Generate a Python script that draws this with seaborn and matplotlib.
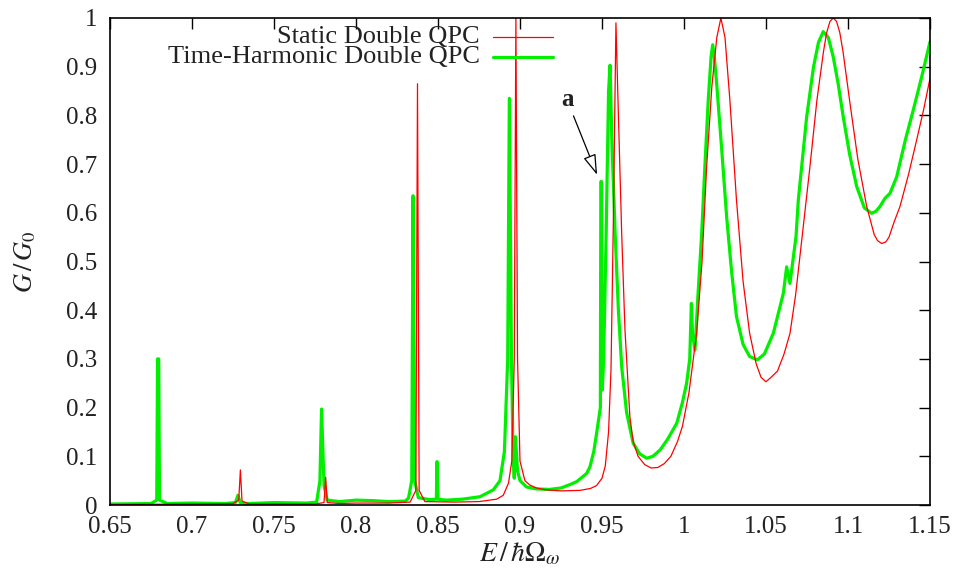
import numpy as np
import pandas as pd
import matplotlib
matplotlib.use("Agg")
import matplotlib.pyplot as plt
from matplotlib.ticker import FuncFormatter
import seaborn as sns

# ---- data ----
static_x = [0.650, 0.700, 0.725, 0.7285, 0.7295, 0.7305, 0.735, 0.775, 0.7805, 0.7815,
            0.7825, 0.790, 0.800, 0.820, 0.833, 0.8365, 0.8375, 0.8385, 0.842, 0.860,
            0.875, 0.8858, 0.8898, 0.893, 0.895, 0.8965, 0.8975, 0.8985, 0.900, 0.903,
            0.906, 0.910, 0.916, 0.925, 0.9366, 0.943, 0.9467, 0.950, 0.952, 0.954,
            0.9555, 0.957, 0.9585, 0.960, 0.962, 0.964, 0.967, 0.969, 0.972, 0.976,
            0.980, 0.984, 0.988, 0.992, 0.996, 0.999, 1.003, 1.0077, 1.011, 1.0138,
            1.017, 1.020, 1.0225, 1.025, 1.028, 1.032, 1.036, 1.040, 1.044, 1.047,
            1.050, 1.053, 1.057, 1.061, 1.0646, 1.068, 1.072, 1.0768, 1.081, 1.085,
            1.087, 1.089, 1.091, 1.093, 1.095, 1.097, 1.101, 1.106, 1.1114, 1.116,
            1.118, 1.1205, 1.123, 1.125, 1.128, 1.1317, 1.137, 1.1419, 1.146, 1.150]
static_g = [0.001, 0.002, 0.003, 0.010, 0.072, 0.008, 0.002, 0.002, 0.005, 0.057,
            0.005, 0.003, 0.004, 0.004, 0.006, 0.030, 0.865, 0.030, 0.007, 0.006,
            0.007, 0.012, 0.020, 0.045, 0.090, 0.300, 1.000, 0.300, 0.090, 0.050,
            0.041, 0.035, 0.031, 0.029, 0.030, 0.034, 0.040, 0.055, 0.080, 0.150,
            0.280, 0.600, 0.990, 0.800, 0.558, 0.360, 0.181, 0.130, 0.100, 0.083,
            0.076, 0.077, 0.085, 0.100, 0.130, 0.161, 0.230, 0.353, 0.500, 0.695,
            0.860, 0.960, 1.000, 0.960, 0.830, 0.626, 0.460, 0.353, 0.290, 0.262,
            0.253, 0.262, 0.275, 0.310, 0.352, 0.430, 0.550, 0.695, 0.830, 0.930,
            0.970, 0.993, 1.000, 0.993, 0.970, 0.930, 0.830, 0.710, 0.613, 0.555,
            0.543, 0.537, 0.540, 0.550, 0.580, 0.613, 0.680, 0.750, 0.810, 0.876]

harm_x = [0.650, 0.675, 0.6785, 0.6790, 0.6797, 0.6802, 0.685, 0.700, 0.720, 0.7265,
          0.728, 0.7295, 0.735, 0.750, 0.770, 0.776, 0.778, 0.779, 0.7805, 0.7825,
          0.790, 0.800, 0.810, 0.820, 0.830, 0.832, 0.834, 0.8348, 0.8358, 0.838,
          0.845, 0.8490, 0.8494, 0.8500, 0.855, 0.865, 0.8756, 0.8837, 0.8878, 0.8905,
          0.8925, 0.8935, 0.8948, 0.8958, 0.8965, 0.8972, 0.8985, 0.900, 0.904, 0.910,
          0.918, 0.925, 0.9305, 0.9346, 0.9407, 0.9427, 0.945, 0.9467, 0.9490, 0.9493,
          0.9497, 0.9502, 0.9510, 0.9525, 0.9540, 0.9549, 0.9560, 0.958, 0.960, 0.962,
          0.965, 0.969, 0.973, 0.9773, 0.981, 0.9854, 0.990, 0.9956, 0.999, 1.0016,
          1.0035, 1.0045, 1.0052, 1.0067, 1.0085, 1.0108, 1.0128, 1.0148, 1.0165, 1.0175,
          1.0185, 1.0199, 1.023, 1.026, 1.029, 1.032, 1.036, 1.040, 1.0447, 1.049,
          1.0545, 1.058, 1.0606, 1.0626, 1.0646, 1.0683, 1.0697, 1.0748, 1.079, 1.082,
          1.0849, 1.088, 1.091, 1.094, 1.0971, 1.101, 1.1053, 1.110, 1.1144, 1.117,
          1.1195, 1.1226, 1.1256, 1.1297, 1.135, 1.1398, 1.145, 1.150]
harm_g = [0.002, 0.003, 0.010, 0.300, 0.300, 0.010, 0.003, 0.004, 0.003, 0.005,
          0.020, 0.004, 0.003, 0.005, 0.004, 0.006, 0.050, 0.197, 0.040, 0.010,
          0.007, 0.010, 0.009, 0.007, 0.008, 0.014, 0.050, 0.635, 0.050, 0.015,
          0.011, 0.012, 0.089, 0.012, 0.010, 0.012, 0.017, 0.031, 0.050, 0.110,
          0.300, 0.835, 0.300, 0.100, 0.055, 0.140, 0.070, 0.050, 0.037, 0.033,
          0.032, 0.035, 0.042, 0.048, 0.065, 0.079, 0.110, 0.147, 0.200, 0.664,
          0.664, 0.236, 0.300, 0.550, 0.850, 0.903, 0.750, 0.558, 0.400, 0.284,
          0.190, 0.127, 0.105, 0.096, 0.100, 0.113, 0.135, 0.168, 0.210, 0.250,
          0.300, 0.414, 0.350, 0.318, 0.430, 0.558, 0.700, 0.832, 0.920, 0.945,
          0.920, 0.866, 0.730, 0.592, 0.480, 0.387, 0.330, 0.305, 0.298, 0.310,
          0.353, 0.400, 0.435, 0.489, 0.455, 0.551, 0.626, 0.797, 0.900, 0.950,
          0.972, 0.960, 0.920, 0.865, 0.797, 0.720, 0.654, 0.610, 0.599, 0.603,
          0.613, 0.630, 0.640, 0.674, 0.750, 0.811, 0.880, 0.951]

series_labels = ["Static Double QPC", "Time-Harmonic Double QPC"]
x_ticks = [0.65, 0.7, 0.75, 0.8, 0.85, 0.9, 0.95, 1.0, 1.05, 1.1, 1.15]
y_ticks = [0, 0.1, 0.2, 0.3, 0.4, 0.5, 0.6, 0.7, 0.8, 0.9, 1.0]

# ---- style ----
sns.set_theme(style="white")
plt.rcParams["font.family"] = ["Liberation Serif", "DejaVu Serif"]
plt.rcParams["mathtext.fontset"] = "stix"
plt.rcParams["axes.linewidth"] = 1.2

RED = "#ff0000"
GREEN = "#00f000"
TXT = "#222222"

fig = plt.figure(figsize=(9.68, 5.77), dpi=100)
ax = fig.add_axes([110 / 968, 1 - 505 / 577, 820 / 968, 487 / 577])

df_s = pd.DataFrame({"E": static_x, "G": static_g})
df_h = pd.DataFrame({"E": harm_x, "G": harm_g})

sns.lineplot(data=df_h, x="E", y="G", ax=ax, color=GREEN, lw=2.3,
             estimator=None, sort=False, legend=False,
             solid_joinstyle="round")
sns.lineplot(data=df_s, x="E", y="G", ax=ax, color=RED, lw=0.9,
             estimator=None, sort=False, legend=False,
             solid_joinstyle="round")

ax.set_xlim(0.65, 1.15)
ax.set_ylim(0, 1)
ax.set_xticks(x_ticks)
ax.set_yticks(y_ticks)
fmt = FuncFormatter(lambda v, p: ("%g" % round(v, 3)))
ax.xaxis.set_major_formatter(fmt)
ax.yaxis.set_major_formatter(fmt)
ax.tick_params(direction="in", top=True, right=True, length=8, width=1.0,
               labelsize=18, colors="black", labelcolor=TXT)
ax.tick_params(axis="x", pad=8)
ax.tick_params(axis="y", pad=9)
for s in ax.spines.values():
    s.set_color("black")
    s.set_linewidth(1.2)

ax.set_xlabel(r"$E\,/\,\hbar\Omega_\omega$", fontsize=20, labelpad=2, color=TXT)
ax.set_ylabel(r"$G\,/\,G_0$", fontsize=19, labelpad=20, color=TXT)

# legend (gnuplot style: right-aligned text, sample on the right)
leg_y = [0.960, 0.920]
for lab, col, lw, yy in zip(series_labels, [RED, GREEN], [0.9, 2.3], leg_y):
    ax.text(0.451, yy, lab, transform=ax.transAxes, ha="right", va="center",
            fontsize=19, color=TXT)
    ax.plot([0.4671, 0.5402], [yy, yy], transform=ax.transAxes, color=col, lw=lw,
            clip_on=False)

# annotation "a"
ax.annotate("a", xy=(0.9470, 0.678), xytext=(0.9287, 0.832),
            ha="center", va="center", fontsize=18, fontweight="bold", color=TXT,
            arrowprops=dict(arrowstyle="-|>,head_length=0.7,head_width=0.22",
                            fc="white", ec="black", lw=0.9, shrinkA=1, shrinkB=0))

fig.savefig("out.png", dpi=100)
